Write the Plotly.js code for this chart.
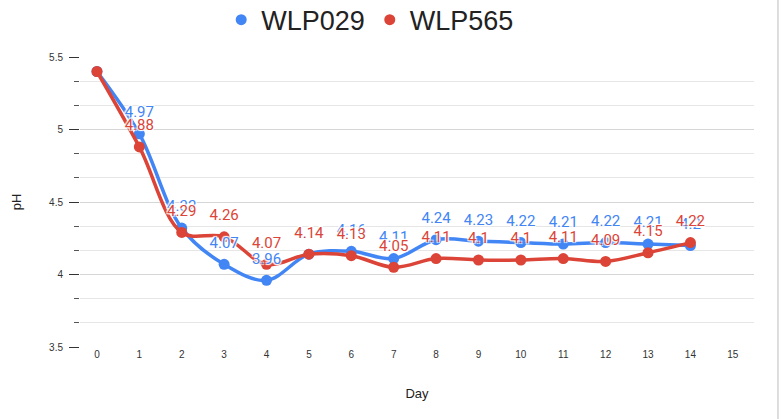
<!DOCTYPE html>
<html>
<head>
<meta charset="utf-8">
<script src="https://cdn.plot.ly/plotly-3.0.1.min.js"></script>
<style>
  html, body { margin: 0; padding: 0; background: #fff; }
  #chart { width: 781px; height: 419px; }
</style>
</head>
<body>
<div id="chart"></div>
<script>
const days = [0, 1, 2, 3, 4, 5, 6, 7, 8, 9, 10, 11, 12, 13, 14];
const wlp029 = [5.4, 4.97, 4.32, 4.07, 3.96, 4.14, 4.16, 4.11, 4.24, 4.23, 4.22, 4.21, 4.22, 4.21, 4.2];
const wlp565 = [5.4, 4.88, 4.29, 4.26, 4.07, 4.14, 4.13, 4.05, 4.11, 4.1, 4.1, 4.11, 4.09, 4.15, 4.22];
const xTicks = [0, 1, 2, 3, 4, 5, 6, 7, 8, 9, 10, 11, 12, 13, 14, 15];
const seriesNames = ["WLP029", "WLP565"];
const blue = "#4285F4";
const red = "#DB4437";

function labels(vals) {
  return vals.map((v, i) => i === 0 ? "" : String(v));
}

const halo = "1px 1px 1px #fff, -1px -1px 1px #fff, 1px -1px 1px #fff, -1px 1px 1px #fff";

function lineTrace(vals, name, color) {
  return {
    x: days, y: vals, name: name, type: "scatter", mode: "lines+markers",
    line: { color: color, width: 3.5, shape: "spline", smoothing: 1 },
    marker: { color: color, size: 11 },
    showlegend: false, cliponaxis: false
  };
}
function textTrace(vals, name, color) {
  return {
    x: days, y: vals, name: name, type: "scatter", mode: "markers+text",
    marker: { color: color, size: 19, opacity: 0 },
    text: labels(vals), textposition: "top center",
    textfont: { family: "Roboto, Arial, sans-serif", size: 15, color: color, shadow: halo },
    showlegend: false, cliponaxis: false
  };
}

const traces = [
  lineTrace(wlp029, seriesNames[0], blue),
  lineTrace(wlp565, seriesNames[1], red),
  textTrace(wlp029, seriesNames[0], blue),
  textTrace(wlp565, seriesNames[1], red),
  { x: [null], y: [null], name: seriesNames[0], type: "scatter", mode: "markers",
    marker: { color: blue, size: 11 }, showlegend: true },
  { x: [null], y: [null], name: seriesNames[1], type: "scatter", mode: "markers",
    marker: { color: red, size: 11 }, showlegend: true }
];

const layout = {
  width: 781, height: 419,
  margin: { l: 80, r: 27, t: 57, b: 72 },
  paper_bgcolor: "#fff", plot_bgcolor: "#fff",
  font: { family: "Liberation Sans, Arial, sans-serif", color: "#222" },
  showlegend: true,
  legend: {
    orientation: "h", x: 0.474, xanchor: "center", xref: "container",
    y: 0.952, yanchor: "middle", yref: "container",
    font: { size: 27, color: "#222", family: "Liberation Sans, Arial, sans-serif" },
    itemwidth: 30, tracegroupgap: 0
  },
  xaxis: {
    range: [-0.4, 15.5],
    tickmode: "array", tickvals: xTicks, ticktext: xTicks.map(String),
    showgrid: false, zeroline: false, showline: false, ticks: "",
    tickfont: { size: 10, color: "#333" },
    title: { text: "Day", font: { size: 13, color: "#222" }, standoff: 29 }
  },
  yaxis: {
    range: [3.5, 5.5], tickmode: "linear", tick0: 3.5, dtick: 0.5,
    showgrid: true, gridcolor: "#d6d6d6", gridwidth: 1,
    zeroline: false, showline: false,
    ticks: "outside", ticklen: 10, tickcolor: "#333", tickwidth: 1,
    ticklabelstandoff: 4,
    tickfont: { size: 10, color: "#333" },
    minor: { dtick: 0.5 / 3, tick0: 3.5, showgrid: true, gridcolor: "#e6e6e6", ticks: "outside", ticklen: 5, tickcolor: "#555" },
    title: { text: "pH", font: { size: 13, color: "#222" }, standoff: 24 }
  },
  shapes: [
    { type: "line", xref: "paper", yref: "paper", x0: 1.0356, x1: 1.0356, y0: -0.3, y1: 1.25,
      line: { color: "#bdbdbd", width: 1 } }
  ]
};

Plotly.newPlot("chart", traces, layout, { displayModeBar: false, staticPlot: true });
</script>
</body>
</html>
